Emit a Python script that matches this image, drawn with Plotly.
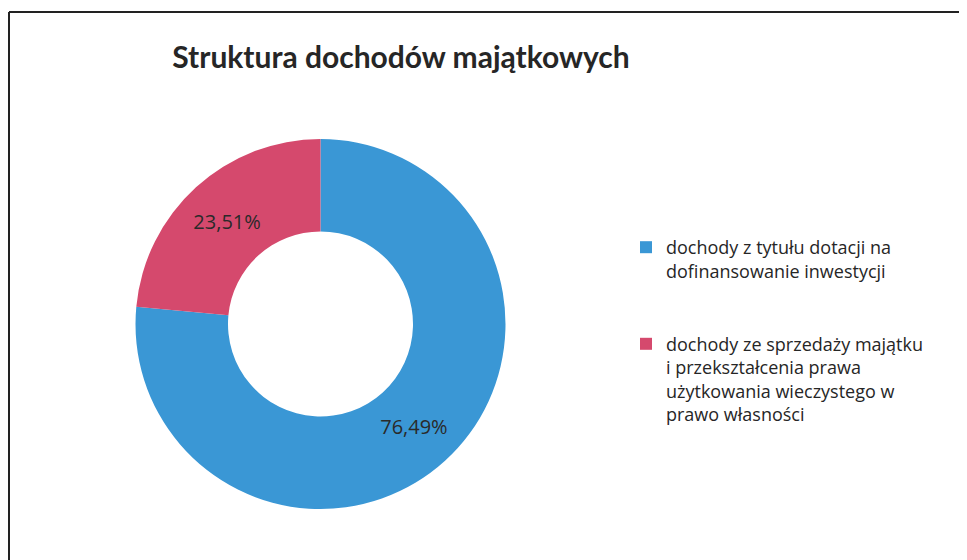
import plotly.graph_objects as go

categories = [
    "dochody z tytułu dotacji na<br>dofinansowanie inwestycji",
    "dochody ze sprzedaży majątku<br>i przekształcenia prawa<br>użytkowania wieczystego w<br>prawo własności",
]
values = [76.49, 23.51]
colors = ["#3a97d5", "#d5496d"]

# spacing lines under the first legend entry (reference shows a wide gap)
legend_labels = [categories[0] + "<br> <br> ", categories[1]]

W, H = 967, 560
OFF = 8  # page body margin


def px(x):
    return (x - OFF) / W


def py(y):
    return 1 - (y - OFF) / H


cx, cy, R = 320.5, 324, 185

fig = go.Figure(go.Pie(
    labels=legend_labels,
    values=values,
    hole=0.5,
    sort=False,
    direction="clockwise",
    rotation=0,
    marker=dict(colors=colors, line=dict(width=0)),
    texttemplate="%{percent:.2%}",
    textposition="inside",
    insidetextorientation="horizontal",
    textfont=dict(family="Open Sans, sans-serif", size=20, color="#2a2a2a"),
    domain=dict(x=[px(cx - R), px(cx + R)], y=[py(cy + R), py(cy - R)]),
    hoverinfo="label+percent",
))

fig.update_layout(
    width=W, height=H,
    margin=dict(l=0, r=0, t=0, b=0),
    paper_bgcolor="white",
    separators=", ",
    title=dict(
        text="<b>Struktura dochodów majątkowych</b>",
        x=px(401), xanchor="center", y=py(57), yanchor="middle",
        font=dict(family="Lato, Open Sans, sans-serif", size=30, color="#262626"),
    ),
    showlegend=True,
    legend=dict(
        x=px(626), xanchor="left", y=py(229), yanchor="top",
        valign="top",
        font=dict(family="Open Sans, sans-serif", size=18, color="#262626"),
        itemwidth=30,
    ),
    shapes=[
        dict(type="line", xref="paper", yref="paper", x0=px(9), x1=1.0, y0=py(12), y1=py(12),
             line=dict(color="#222222", width=2)),
        dict(type="line", xref="paper", yref="paper", x0=px(9), x1=px(9), y0=0, y1=py(12),
             line=dict(color="#222222", width=2)),
    ],
)

fig.write_html("out.html")
